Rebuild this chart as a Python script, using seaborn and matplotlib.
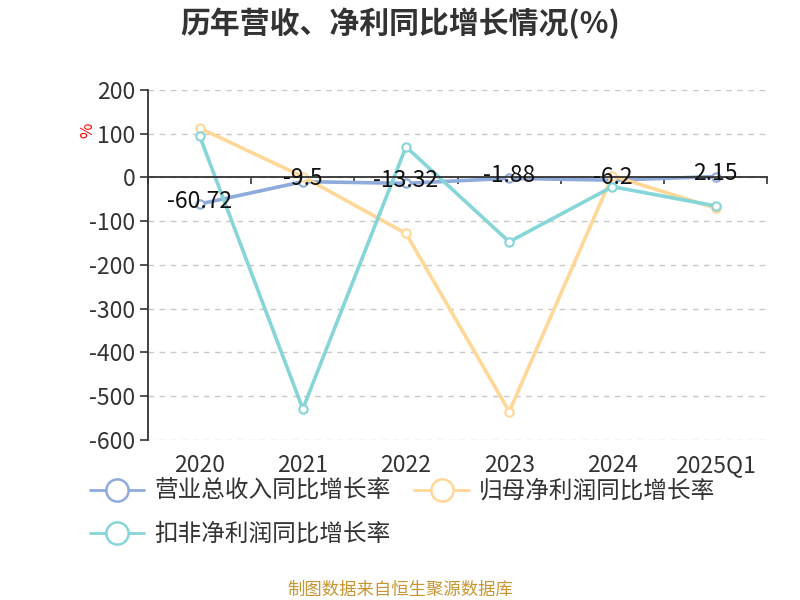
import pandas as pd
import seaborn as sns
import matplotlib.pyplot as plt
from matplotlib.lines import Line2D
from matplotlib.ticker import FixedLocator

years = ["2020", "2021", "2022", "2023", "2024", "2025Q1"]
revenue_growth = [-60.72, -9.5, -13.32, -1.88, -6.2, 2.15]
profit_growth = [113, 2, -128, -535, 4, -70]
deducted_growth = [95, -529, 70, -147, -21, -65]

names = ["营业总收入同比增长率", "归母净利润同比增长率", "扣非净利润同比增长率"]
colors = ["#8EABDB", "#FFD797", "#86D5D8"]

data = pd.DataFrame({
    "year": years * 3,
    "value": revenue_growth + profit_growth + deducted_growth,
    "series": [names[0]] * 6 + [names[1]] * 6 + [names[2]] * 6,
})

sns.set_theme(style="white")
plt.rcParams["font.family"] = ["Noto Sans CJK SC", "DejaVu Sans"]
plt.rcParams["axes.unicode_minus"] = False

fig = plt.figure(figsize=(8, 6), dpi=100)
ax = fig.add_axes([0.185, 0.2667, 0.774, 0.5833])

for name, c in zip(names, colors):
    sns.lineplot(data=data[data["series"] == name], x="year", y="value",
                 color=c, linewidth=2.6, marker="o", markersize=6,
                 markerfacecolor="white", markeredgecolor=c,
                 markeredgewidth=1.5, sort=False, ax=ax, legend=False)

for i, v in enumerate(revenue_growth):
    ax.annotate(f"{v:g}", (i, v), xytext=(0, 2), textcoords="offset points",
                ha="center", va="center", fontsize=16.5, color="#111111")

ax.set_xlim(-0.5, 5.5)
ax.set_ylim(-600, 200)
ax.set_yticks(range(-600, 201, 100))
ax.set_xticks(range(len(years)))
ax.set_xticklabels(years)
ax.set_xlabel("")
ax.set_ylabel("")

ax.yaxis.grid(True, color="#c8c8c8", linestyle=(0, (4, 4)), linewidth=1)
ax.xaxis.grid(False)
ax.set_axisbelow(True)

ax.spines["right"].set_visible(False)
ax.spines["bottom"].set_visible(False)
ax.spines["left"].set_color("#333333")
ax.spines["left"].set_linewidth(1.3)
ax.spines["top"].set_position(("data", 0))
ax.spines["top"].set_color("#333333")
ax.spines["top"].set_linewidth(1.3)

ax.xaxis.set_minor_locator(FixedLocator([i - 0.5 for i in range(len(years) + 1)]))
ax.tick_params(axis="x", which="major", bottom=False, top=False, labelbottom=True,
               labelsize=16.5, labelcolor="#333333", pad=4)
ax.tick_params(axis="x", which="minor", bottom=False, top=True, direction="in",
               length=5, width=1.2, color="#333333")
ax.tick_params(axis="y", which="major", left=True, direction="out", length=6,
               width=1.2, color="#333333", labelsize=16.5, labelcolor="#333333", pad=3)

ax.text(-0.097, 0.886, "%", transform=ax.transAxes, rotation=90, color="red",
        fontsize=12, ha="center", va="center")

fig.text(0.5, 0.962, "历年营收、净利同比增长情况(%)", ha="center", va="center",
         fontsize=21.5, fontweight="bold", color="#333333")

handles = [Line2D([], [], color=c, linewidth=2, marker="o", markersize=16,
                  markerfacecolor="white", markeredgecolor=c, markeredgewidth=1.8)
           for c in colors]
order = [0, 2, 1]
fig.legend([handles[i] for i in order], [names[i] for i in order],
           loc="upper left", bbox_to_anchor=(0.112, 0.2), ncol=2,
           frameon=False, fontsize=17, handlelength=2.3, handletextpad=0.45,
           columnspacing=1.0, labelspacing=0.85, labelcolor="#333333",
           borderaxespad=0, borderpad=0)

fig.text(0.5, 0.017, "制图数据来自恒生聚源数据库", ha="center", va="center",
         fontsize=12.5, color="#C89530")

fig.savefig("out.png", dpi=100)
